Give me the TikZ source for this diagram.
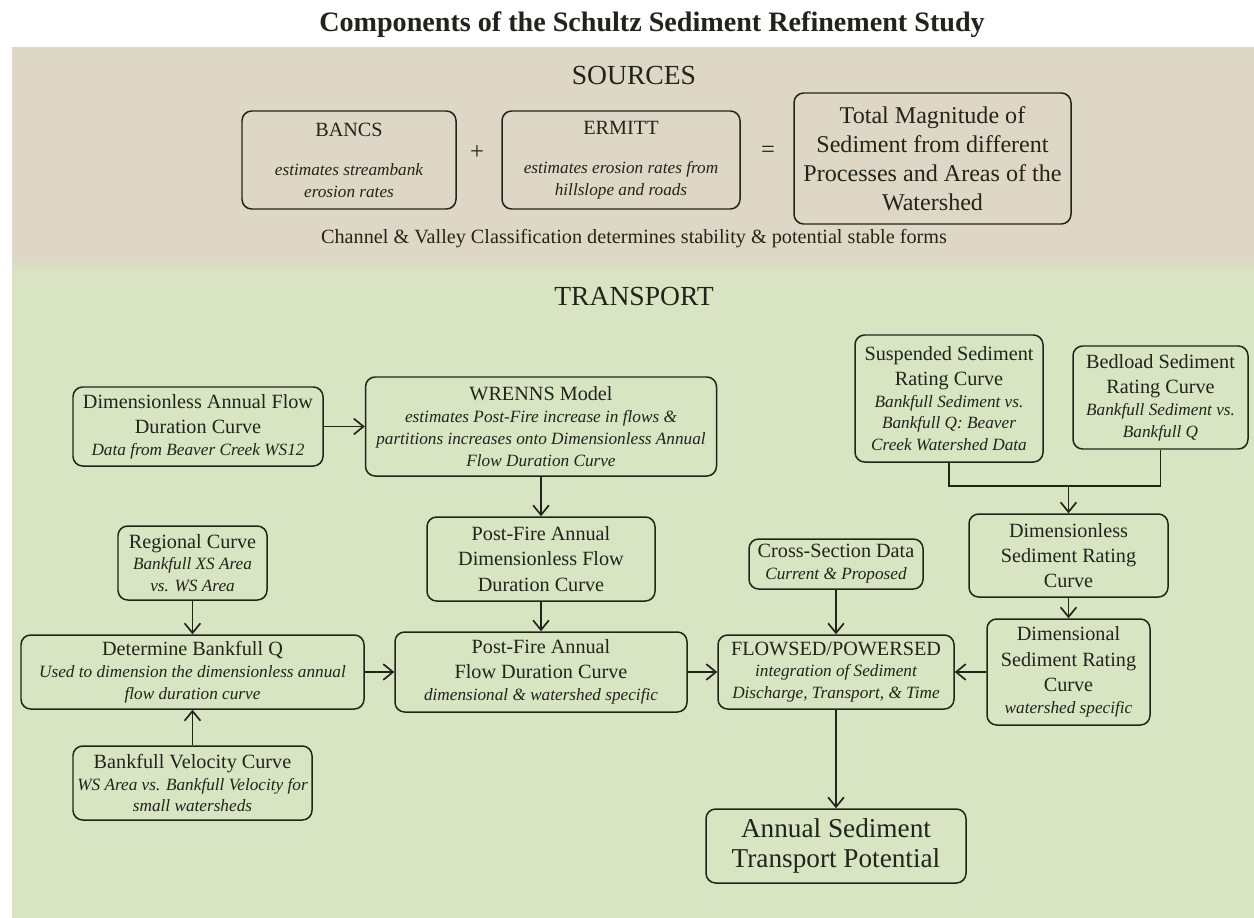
\documentclass[tikz,border=0pt]{standalone}
\usepackage{fontspec}
\setmainfont{Liberation Serif}
\usetikzlibrary{arrows.meta,positioning,calc}
\definecolor{ink}{RGB}{32,36,26}
\definecolor{tanbg}{RGB}{222,215,198}
\definecolor{grnbg}{RGB}{217,228,194}
\newcommand\subtx[1]{{\itshape\fontsize{9.8}{12}\selectfont #1}}

\begin{document}
\begin{tikzpicture}[>={Straight Barb[length=5.5pt,width=9pt]},
  font=\fontsize{11.5}{12.4}\selectfont,text=ink,
  box/.style={draw=ink,line width=0.85pt,rounded corners=5.5pt,align=center,inner sep=2pt},
  wh/.style 2 args={minimum width=#1cm,minimum height=#2cm},
  big/.style={font=\fontsize{13.7}{16.5}\selectfont},
  hdr/.style={font=\fontsize{15.7}{18}\selectfont},
  m/.style={->,draw=ink,line width=0.95pt}]

  % page and the two bands (1px = 0.02cm)
  \useasboundingbox (0,0) rectangle (25.08,-18.36);
  \fill[white] (0,0) rectangle (25.08,-18.36);
  \fill[tanbg] (0.24,-0.94) rectangle (25.08,-5.2);
  \fill[grnbg] (0.24,-5.45) rectangle (25.08,-18.36);
  \shade[top color=tanbg,bottom color=grnbg] (0.24,-5.2) rectangle (25.08,-5.45);

  \node[anchor=base,font=\fontsize{16}{19}\selectfont\bfseries] (title) at (13.04,-0.64)
    {Components of the Schultz Sediment Refinement Study};

  % ---- sources ----
  \node[hdr] (sources) at (12.68,-1.52) {SOURCES};
  \node[box,wh={4.28}{1.96}] (bancs) at (6.98,-3.20)
    {BANCS\\[10pt]\subtx{estimates streambank}\\\subtx{erosion rates}};
  \node[font=\fontsize{14}{16}\selectfont] (plus) at (9.54,-3.06) {+};
  \node[box,wh={4.76}{1.96}] (ermitt) at (12.42,-3.20)
    {ERMITT\\[10pt]\subtx{estimates erosion rates from}\\\subtx{hillslope and roads}};
  \node[font=\fontsize{14}{16}\selectfont] (equals) at (15.36,-3.04) {=};
  \node[box,big,wh={5.54}{2.62}] (total) at (18.65,-3.17)
    {Total Magnitude of\\Sediment from different\\Processes and Areas of the\\Watershed};
  \node[anchor=base] (chan) at (12.68,-4.86)
    {Channel \& Valley Classification determines stability \& potential stable forms};

  % ---- transport ----
  \node[hdr] (transport) at (12.68,-5.92) {TRANSPORT};

  \node[box,wh={5.00}{1.58}] (dimflow) at (3.96,-8.53)
    {Dimensionless Annual Flow\\[2pt]Duration Curve\\\subtx{Data from Beaver Creek WS12}};
  \node[box,wh={7.02}{1.98}] (wrenns) at (10.82,-8.53)
    {WRENNS Model\\\subtx{estimates Post-Fire increase in flows \&}\\
     \subtx{partitions increases onto Dimensionless Annual}\\\subtx{Flow Duration Curve}};
  \node[box,wh={3.76}{2.54}] (susp) at (18.98,-7.97)
    {Suspended Sediment\\[2pt]Rating Curve\\\subtx{Bankfull Sediment vs.}\\
     \subtx{Bankfull Q: Beaver}\\\subtx{Creek Watershed Data}};
  \node[box,wh={3.50}{2.06}] (bedl) at (23.21,-7.95)
    {Bedload Sediment\\[2pt]Rating Curve\\\subtx{Bankfull Sediment vs.}\\\subtx{Bankfull Q}};
  \coordinate (jn) at (21.37,-9.72);

  \node[box,wh={4.56}{1.68}] (pfdim) at (10.82,-11.18)
    {Post-Fire Annual\\[2pt]Dimensionless Flow\\[2pt]Duration Curve};
  \node[box,wh={2.98}{1.48}] (regional) at (3.85,-11.26)
    {Regional Curve\\\subtx{Bankfull XS Area}\\\subtx{vs. WS Area}};
  \node[box,wh={3.48}{1.00}] (xsec) at (16.72,-11.28)
    {Cross-Section Data\\\subtx{Current \& Proposed}};
  \node[box,wh={3.98}{1.66}] (dimsed) at (21.37,-11.11)
    {Dimensionless\\[2pt]Sediment Rating\\[2pt]Curve};

  \node[box,wh={6.86}{1.48}] (detq) at (3.85,-13.44)
    {Determine Bankfull Q\\\subtx{Used to dimension the dimensionless annual}\\\subtx{flow duration curve}};
  \node[box,wh={5.84}{1.60}] (pfflow) at (10.82,-13.44)
    {Post-Fire Annual\\[2pt]Flow Duration Curve\\\subtx{dimensional \& watershed specific}};
  \node[box,wh={4.72}{1.48}] (flowsed) at (16.72,-13.44)
    {FLOWSED/POWERSED\\\subtx{integration of Sediment}\\\subtx{Discharge, Transport, \& Time}};
  \node[box,wh={3.26}{2.12}] (dimsnl) at (21.37,-13.44)
    {Dimensional\\[2pt]Sediment Rating\\[2pt]Curve\\\subtx{watershed specific}};

  \node[box,wh={4.78}{1.48}] (veloc) at (3.85,-15.66)
    {Bankfull Velocity Curve\\\subtx{WS Area vs. Bankfull Velocity for}\\\subtx{small watersheds}};
  \node[box,font=\fontsize{15.5}{17}\selectfont,wh={5.20}{1.48}] (annual) at (16.72,-16.92)
    {Annual Sediment\\Transport Potential};

  % ---- connectors ----
  \draw[m] (dimflow) -- (wrenns);
  \draw[m] (wrenns) -- (pfdim);
  \draw[m] (pfdim) -- (pfflow);
  \draw[m] (regional) -- (detq);
  \draw[m] (veloc) -- (detq);
  \draw[m] (detq) -- (pfflow);
  \draw[m] (pfflow) -- (flowsed);
  \draw[m] (xsec) -- (flowsed);
  \draw[m] (dimsnl) -- (flowsed);
  \draw[m] (flowsed) -- (annual);
  \draw[ink,line width=0.95pt] (susp.south) |- (jn) -| (bedl.south);
  \draw[m] (jn) -- (dimsed);
  \draw[m] (dimsed) -- (dimsnl);
\end{tikzpicture}
\end{document}
